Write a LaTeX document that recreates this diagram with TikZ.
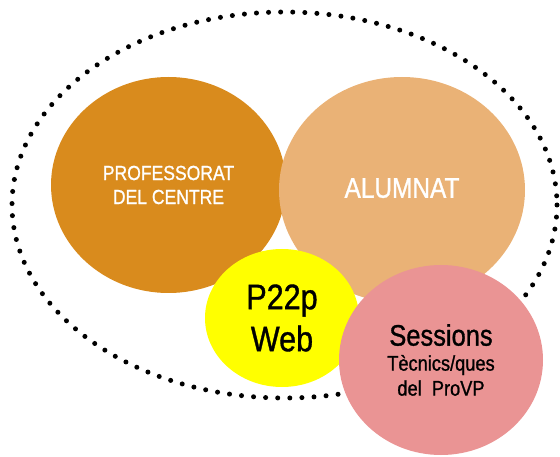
\documentclass[tikz,border=0pt]{standalone}
\usepackage{fontspec}
\usetikzlibrary{shapes.geometric}
\newfontfamily\narrowfont[FakeStretch=0.86, FakeBold=1]{Liberation Sans}
\definecolor{profcol}{RGB}{217,139,29}
\definecolor{alumcol}{RGB}{234,178,118}
\definecolor{webcol}{RGB}{255,255,0}
\definecolor{sesscol}{RGB}{234,148,148}
\tikzset{
	blob/.style={ellipse, inner sep=0pt, align=center},
}
\begin{document}
\begin{tikzpicture}[x=1pt, y=-1pt]
	\useasboundingbox (0,0) rectangle (560,457);
	
	% contorn puntejat
	\draw[line width=5pt, line cap=round, dash pattern=on 0pt off 12.1pt]
	(284.5,205) ellipse [x radius=272.5, y radius=193];
	
	\node[blob, fill=profcol, minimum width=235pt, minimum height=216pt,
	text=white, font=\narrowfont\fontsize{20.4}{24}\selectfont]
	(prof) at (168.5,185) {PROFESSORAT\\DEL CENTRE};
	
	\node[blob, fill=alumcol, minimum width=246pt, minimum height=226pt,
	text=white, font=\narrowfont\fontsize{28.4}{30}\selectfont]
	(alum) at (402,190) {\raisebox{4pt}{ALUMNAT}};
	
	\node[blob, fill=webcol, minimum width=154pt, minimum height=138pt,
	font=\narrowfont\fontsize{35.5}{42}\selectfont]
	(web) at (282,318) {P22p\\Web};
	
	\node[blob, fill=sesscol, minimum width=204pt, minimum height=190pt,
	font=\narrowfont\fontsize{21.2}{25}\selectfont]
	(sess) at (441,360) {{\fontsize{29.6}{30}\selectfont Sessions}\\T\`ecnics/ques\\del\ \ ProVP};
	
\end{tikzpicture}
\end{document}
